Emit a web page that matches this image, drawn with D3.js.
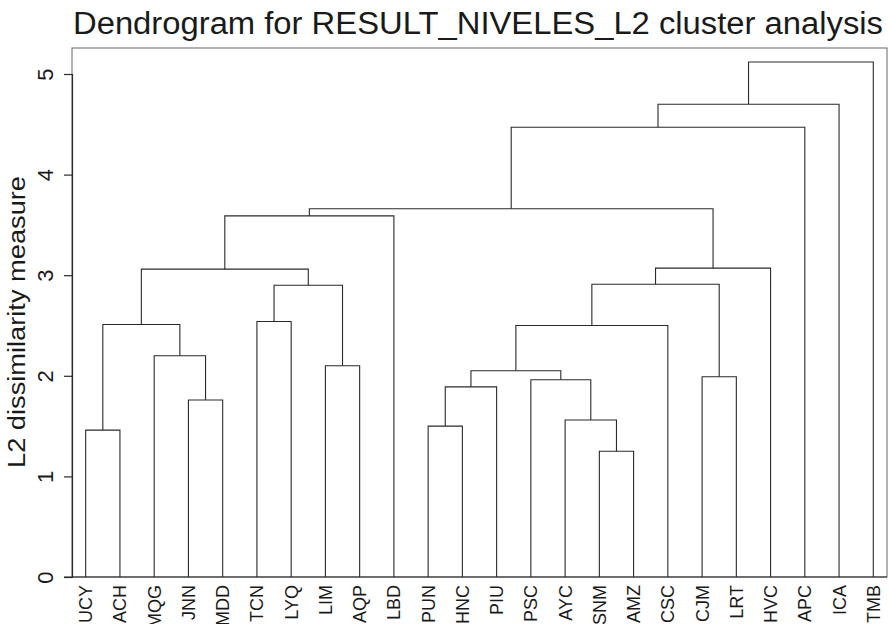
<!DOCTYPE html>
<html>
<head>
<meta charset="utf-8">
<script src="https://cdn.jsdelivr.net/npm/d3@7"></script>
<style>
  body { margin: 0; background: #fff; }
  text { font-family: "Liberation Sans", Arial, Helvetica, sans-serif; fill: #1a1a1a; }
</style>
</head>
<body>
<div id="chart"></div>
<script>

// leaves in dendrogram order
var leaves = ["UCY", "ACH", "MQG", "JNN", "MDD", "TCN", "LYQ", "LIM", "AQP", "LBD",
  "PUN", "HNC", "PIU", "PSC", "AYC", "SNM", "AMZ", "CSC", "CJM", "LRT",
  "HVC", "APC", "ICA", "TMB"]

// merges: each joins two leaves or earlier clusters (c1, c2, ...)
var merges = [
  ["UCY", "ACH"],   // c1
  ["JNN", "MDD"],   // c2
  ["MQG", "c2"],    // c3
  ["c1", "c3"],     // c4
  ["TCN", "LYQ"],   // c5
  ["LIM", "AQP"],   // c6
  ["c5", "c6"],     // c7
  ["c4", "c7"],     // c8
  ["c8", "LBD"],    // c9
  ["PUN", "HNC"],   // c10
  ["c10", "PIU"],   // c11
  ["SNM", "AMZ"],   // c12
  ["AYC", "c12"],   // c13
  ["PSC", "c13"],   // c14
  ["c11", "c14"],   // c15
  ["c15", "CSC"],   // c16
  ["CJM", "LRT"],   // c17
  ["c16", "c17"],   // c18
  ["c18", "HVC"],   // c19
  ["c9", "c19"],    // c20
  ["c20", "APC"],   // c21
  ["c21", "ICA"],   // c22
  ["c22", "TMB"]    // c23
]

// dissimilarity at which each merge happens
var heights = [1.46, 1.76, 2.20, 2.51, 2.54, 2.10, 2.90, 3.06, 3.59,
  1.50, 1.89, 1.25, 1.56, 1.96, 2.05, 2.50, 1.99, 2.91, 3.07,
  3.66, 4.47, 4.70, 5.12]

var yTicks = [0, 1, 2, 3, 4, 5]

var width = 889, height = 624
var margin = {top: 48, right: 2, bottom: 47, left: 72}

var svg = d3.select("#chart").append("svg")
  .attr("width", width)
  .attr("height", height)

var x = d3.scalePoint()
  .domain(leaves)
  .range([margin.left, width - margin.right])
  .padding(0.4)

var y = d3.scaleLinear()
  .domain([0, 5])
  .range([577, 74])

// frame of the plot region
svg.append("rect")
  .attr("x", margin.left)
  .attr("y", margin.top)
  .attr("width", width - margin.right - margin.left)
  .attr("height", 577 - margin.top)
  .attr("fill", "none")
  .attr("stroke", "#666")
  .attr("stroke-width", 1)

// node positions: leaves sit on 0, clusters at the middle of their children
var pos = {}
leaves.forEach(function (d) { pos[d] = {x: x(d), h: 0} })
merges.forEach(function (m, i) {
  var a = pos[m[0]], b = pos[m[1]]
  pos["c" + (i + 1)] = {x: (a.x + b.x) / 2, h: heights[i]}
})

svg.append("g")
  .selectAll("path")
  .data(merges)
  .enter()
  .append("path")
  .attr("fill", "none")
  .attr("stroke", "#2a2a2a")
  .attr("stroke-width", 1.1)
  .attr("d", function (m, i) {
    var a = pos[m[0]], b = pos[m[1]]
    return "M" + a.x + "," + y(a.h) + "V" + y(heights[i]) + "H" + b.x + "V" + y(b.h)
  })

// y axis
var yAxis = svg.append("g")
  .attr("transform", "translate(" + margin.left + ",0)")
  .call(d3.axisLeft(y).tickValues(yTicks).tickSize(8).tickPadding(0).tickFormat(d3.format("d")))

yAxis.select(".domain").attr("stroke", "#2a2a2a").attr("stroke-width", 1.2)
yAxis.selectAll(".tick line").attr("stroke", "#2a2a2a").attr("stroke-width", 1.2)
yAxis.selectAll(".tick text")
  .attr("x", null).attr("dy", null)
  .attr("transform", "translate(-27,0) rotate(-90)")
  .attr("text-anchor", "middle")
  .attr("dy", "0.36em")
  .style("font-size", "22px")
  .style("font-family", "'Liberation Sans', Arial, sans-serif")
  .attr("fill", "#1a1a1a")

// x baseline
svg.append("line")
  .attr("x1", margin.left - 8)
  .attr("x2", width - margin.right)
  .attr("y1", y(0))
  .attr("y2", y(0))
  .attr("stroke", "#2a2a2a")
  .attr("stroke-width", 1.2)

// leaf labels
svg.append("g")
  .selectAll("text")
  .data(leaves)
  .enter()
  .append("text")
  .attr("transform", function (d) { return "translate(" + x(d) + ",585) rotate(-90)" })
  .attr("text-anchor", "end")
  .attr("dy", "0.36em")
  .style("font-size", "18px")
  .text(function (d) { return d })

// axis title
svg.append("text")
  .attr("transform", "translate(17,322) rotate(-90)")
  .attr("text-anchor", "middle")
  .attr("dy", "0.36em")
  .attr("textLength", 292)
  .attr("lengthAdjust", "spacingAndGlyphs")
  .style("font-size", "23px")
  .text("L2 dissimilarity measure")

// chart title
svg.append("text")
  .attr("x", 73)
  .attr("y", 34)
  .attr("textLength", 810)
  .attr("lengthAdjust", "spacingAndGlyphs")
  .style("font-size", "31px")
  .text("Dendrogram for RESULT_NIVELES_L2 cluster analysis")

</script>
</body>
</html>
